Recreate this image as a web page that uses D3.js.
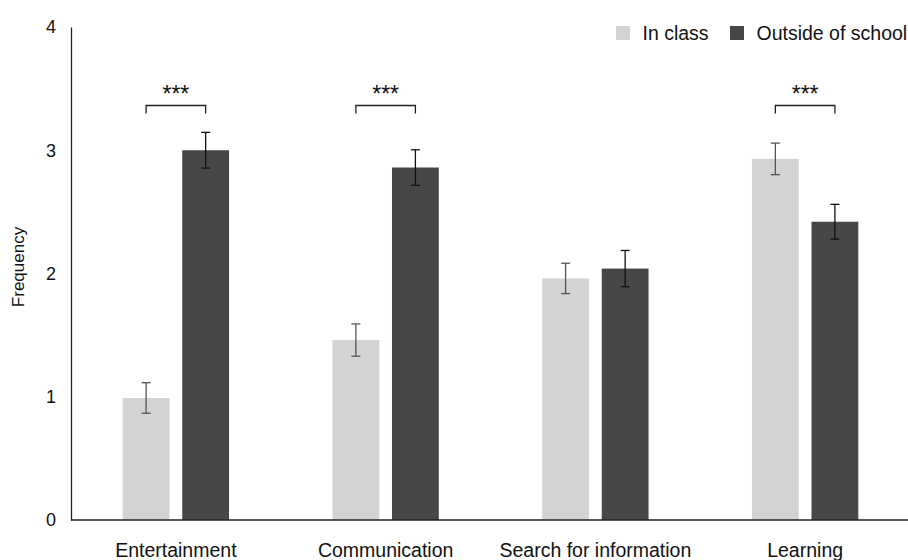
<!DOCTYPE html>
<html>
<head>
<meta charset="utf-8">
<script src="https://cdn.jsdelivr.net/npm/d3@7"></script>
<style>
  html, body { margin: 0; padding: 0; background: #fff; }
  svg { display: block; font-family: "Liberation Sans", Arial, sans-serif; }
</style>
</head>
<body>
<svg id="chart" width="908" height="560"></svg>
<script>
// Mean frequency of use by purpose and setting, with error bars
const categories = ["Entertainment", "Communication", "Search for information", "Learning"];
const seriesNames = ["In class", "Outside of school"];
const inClass = [0.99, 1.46, 1.96, 2.93];
const inClassErr = [0.124, 0.131, 0.123, 0.128];
const outside = [3.00, 2.86, 2.04, 2.42];
const outsideErr = [0.145, 0.144, 0.147, 0.141];
const significance = ["***", "***", "", "***"];
const yTicks = [0, 1, 2, 3, 4];

const colors = { "In class": "#d3d3d3", "Outside of school": "#474747" };
const errColors = { "In class": "#555555", "Outside of school": "#111111" };

const svg = d3.select("#chart");
const plotLeft = 71, plotRight = 910, plotTop = 27, plotBottom = 520;

const y = d3.scaleLinear().domain([0, 4]).range([plotBottom, plotTop]);
const x0 = d3.scaleBand().domain(categories).range([plotLeft, plotRight]).padding(0);
const bw = x0.bandwidth();
const span = bw * 0.507;
const x1 = d3.scaleBand().domain(seriesNames)
  .range([(bw - span) / 2, (bw + span) / 2]).paddingInner(0.214).paddingOuter(0);

const rows = categories.map((c, i) => ({
  cat: c,
  sig: significance[i],
  vals: [
    { s: "In class", v: inClass[i], e: inClassErr[i] },
    { s: "Outside of school", v: outside[i], e: outsideErr[i] }
  ]
}));

// Bars
const groups = svg.append("g").selectAll("g").data(rows).join("g")
  .attr("transform", d => `translate(${x0(d.cat)},0)`);

groups.selectAll("rect").data(d => d.vals).join("rect")
  .attr("x", d => x1(d.s))
  .attr("width", x1.bandwidth())
  .attr("y", d => y(d.v))
  .attr("height", d => y(0) - y(d.v))
  .attr("fill", d => colors[d.s]);

// Error bars
const cap = 4.5;
const cx = d => x1(d.s) + x1.bandwidth() / 2;
const eb = groups.selectAll("g.err").data(d => d.vals).join("g").attr("class", "err")
  .attr("stroke", d => errColors[d.s]).attr("stroke-width", 1.3);
eb.append("line")
  .attr("x1", cx).attr("x2", cx)
  .attr("y1", d => y(d.v + d.e)).attr("y2", d => y(d.v - d.e));
eb.append("line")
  .attr("x1", d => cx(d) - cap).attr("x2", d => cx(d) + cap)
  .attr("y1", d => y(d.v + d.e)).attr("y2", d => y(d.v + d.e));
eb.append("line")
  .attr("x1", d => cx(d) - cap).attr("x2", d => cx(d) + cap)
  .attr("y1", d => y(d.v - d.e)).attr("y2", d => y(d.v - d.e));

// Significance brackets
const sigRows = rows.filter(d => d.sig);
const br = svg.append("g").selectAll("g").data(sigRows).join("g")
  .attr("transform", d => `translate(${x0(d.cat)},0)`);
const bx1 = x1("In class") + x1.bandwidth() / 2;
const bx2 = x1("Outside of school") + x1.bandwidth() / 2;
const bracketY = 105.5;
br.append("path")
  .attr("d", `M${bx1},${bracketY + 8}V${bracketY}H${bx2}V${bracketY + 8}`)
  .attr("fill", "none").attr("stroke", "#222").attr("stroke-width", 1.3);
br.append("text")
  .attr("x", (bx1 + bx2) / 2).attr("y", 102)
  .attr("text-anchor", "middle")
  .attr("font-size", 23).attr("fill", "#111")
  .text(d => d.sig);

// Axes
const yAxis = svg.append("g").attr("transform", `translate(${plotLeft},0)`)
  .call(d3.axisLeft(y).tickValues(yTicks).tickFormat(d3.format("d")).tickSize(0).tickPadding(15));
yAxis.select(".domain").attr("stroke", "#222").attr("stroke-width", 1.3);
yAxis.selectAll("text").attr("font-size", 18).attr("fill", "#111")
  .attr("font-family", "'Liberation Sans', Arial, sans-serif");

const xAxis = svg.append("g").attr("transform", `translate(0,${plotBottom})`)
  .call(d3.axisBottom(x0).tickSize(0).tickPadding(23).tickSizeOuter(0));
xAxis.select(".domain").attr("stroke", "#222").attr("stroke-width", 1.3)
  .attr("d", `M${plotLeft},0H908`);
xAxis.selectAll("text").attr("font-size", 19.5).attr("fill", "#111")
  .attr("font-family", "'Liberation Sans', Arial, sans-serif");

// Y title
svg.append("text")
  .attr("transform", "translate(24,267) rotate(-90)")
  .attr("text-anchor", "middle")
  .attr("font-size", 17).attr("fill", "#111")
  .text("Frequency");

// Legend
const legendItems = [
  { s: "In class", x: 616 },
  { s: "Outside of school", x: 730 }
];
const lg = svg.append("g").selectAll("g").data(legendItems).join("g")
  .attr("transform", d => `translate(${d.x},26)`);
lg.append("rect").attr("width", 14).attr("height", 14).attr("fill", d => colors[d.s]);
lg.append("text").attr("x", 26.5).attr("y", 13.5)
  .attr("font-size", 19.5).attr("fill", "#111")
  .text(d => d.s);
</script>
</body>
</html>
